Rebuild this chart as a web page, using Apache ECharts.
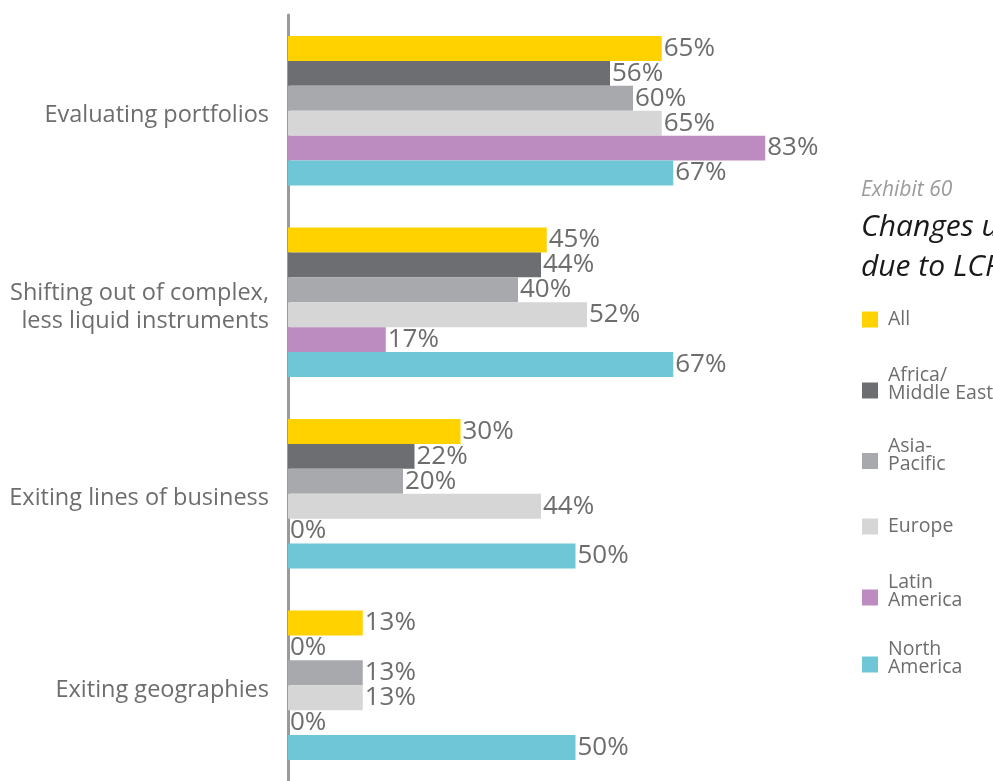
<!DOCTYPE html>
<html>
<head>
<meta charset="utf-8">
<style>html,body{margin:0;padding:0;background:#fff;}#c{width:993px;height:781px;}</style>
<script src="https://cdn.jsdelivr.net/npm/echarts@6/dist/echarts.min.js"></script>
</head>
<body>
<div id="c"></div>
<script>
const categories = ['Evaluating portfolios', 'Shifting out of complex,\nless liquid instruments', 'Exiting lines of business', 'Exiting geographies'];
const seriesNames = ['All', 'Africa/\nMiddle East', 'Asia-\nPacific', 'Europe', 'Latin\nAmerica', 'North\nAmerica'];
const allValues = [65, 45, 30, 13];
const africaMiddleEast = [56, 44, 22, 0];
const asiaPacific = [60, 40, 20, 13];
const europe = [65, 52, 44, 13];
const latinAmerica = [83, 17, 0, 0];
const northAmerica = [67, 67, 50, 50];
const seriesValues = [allValues, africaMiddleEast, asiaPacific, europe, latinAmerica, northAmerica];
const colors = ['#FFD200', '#6D6E71', '#A7A9AC', '#D6D6D7', '#BC8BBF', '#6FC6D7'];
const legendMarkerCenters = [319.5, 389.5, 460, 526.5, 596.5, 663.5];

const FONT = '"Open Sans", "DejaVu Sans", sans-serif';
const chart = echarts.init(document.getElementById('c'));
const legends = seriesNames.map((n, i) => {
  const twoLine = n.indexOf('\n') >= 0;
  return {
    data: [n],
    left: 862,
    top: twoLine ? legendMarkerCenters[i] - 24 : legendMarkerCenters[i] - 10,
    orient: 'vertical',
    padding: 0,
    itemWidth: 16,
    itemHeight: 16,
    itemGap: 0,
    icon: 'rect',
    selectedMode: false,
    formatter: function (name) {
      if (name.indexOf('\n') < 0) return '{t|' + name + '}';
      return name.split('\n').map(s => '{t|' + s + '}').join('\n') + '\n{p| }';
    },
    textStyle: {
      color: '#6d6d6d', fontSize: 19.5, fontFamily: FONT,
      rich: {
        t: { color: '#6d6d6d', fontSize: 19.5, lineHeight: twoLine ? 18 : 20, fontFamily: FONT, padding: [0, 0, 0, 5] },
        p: { fontSize: 10, lineHeight: 12 }
      }
    }
  };
});
chart.setOption({
  animation: false,
  color: colors,
  title: [
    { text: 'Exhibit 60', left: 861, top: 180, padding: 0, textStyle: { fontSize: 21, lineHeight: 21, fontStyle: 'italic', fontWeight: 'normal', color: '#9b9b9b', fontFamily: FONT } },
    { text: 'Changes underway\ndue to LCR', left: 861, top: 207, padding: 0, textStyle: { fontSize: 30, lineHeight: 40, fontStyle: 'italic', fontWeight: 'normal', color: '#1a1a1a', fontFamily: FONT } }
  ],
  legend: legends,
  grid: { left: 288, top: 15, height: 768, width: 575, containLabel: false },
  xAxis: { type: 'value', min: 0, max: 100, show: false },
  yAxis: {
    type: 'category',
    data: categories,
    inverse: true,
    axisTick: { show: false },
    axisLine: { show: true, lineStyle: { color: '#9a9a9a', width: 3 } },
    axisLabel: {
      margin: 19, align: 'right',
      formatter: function (v) {
        return '{p| }\n' + v.split('\n').map(s => '{a|' + s + '}').join('\n');
      },
      rich: {
        a: { color: '#6d6d6d', fontSize: 23.5, lineHeight: 28, fontFamily: FONT, align: 'right' },
        p: { fontSize: 8, lineHeight: 10 }
      }
    }
  },
  series: seriesNames.map((n, i) => ({
    name: n,
    type: 'bar',
    data: seriesValues[i],
    barGap: '0%',
    barCategoryGap: '22%',
    itemStyle: { color: colors[i] },
    label: { show: true, position: 'right', distance: 2, formatter: '{c}%', color: '#6d6d6d', fontSize: 26, fontFamily: FONT }
  }))
});
</script>
</body>
</html>
